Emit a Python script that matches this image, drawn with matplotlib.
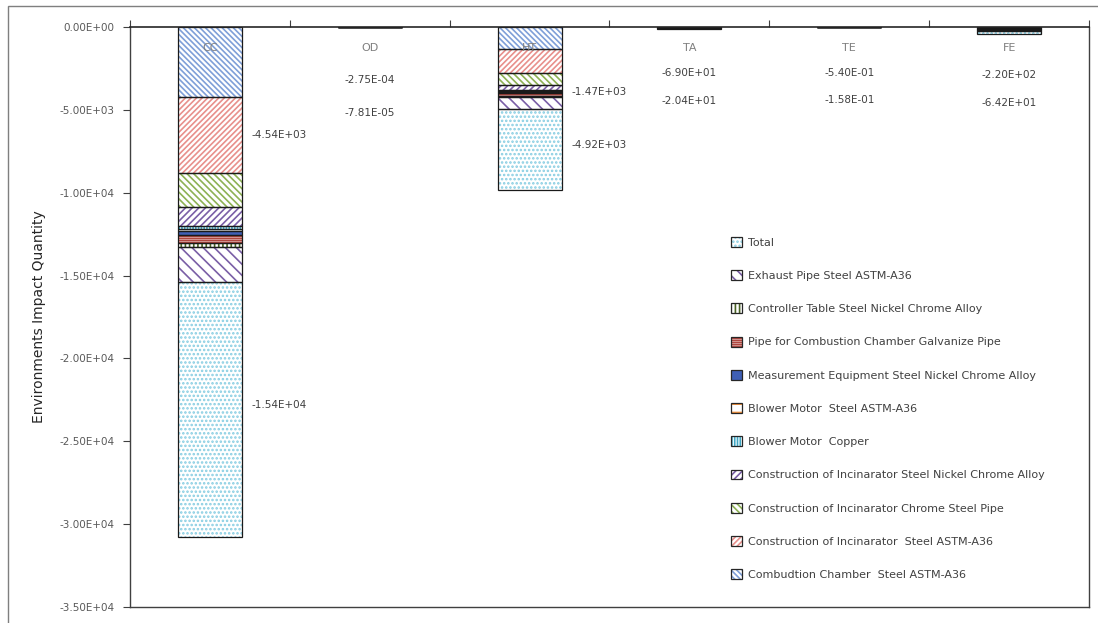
import numpy as np
import matplotlib
matplotlib.use("Agg")
import matplotlib.pyplot as plt
from matplotlib.patches import Patch, Rectangle

plt.rcParams['font.family'] = ['DejaVu Sans']
plt.rcParams['hatch.linewidth'] = 1.2

categories = ['CC', 'OD', 'HT', 'TA', 'TE', 'FE']

# stacked series, top of bar first (values as plotted, negative)
series_names = [
    'Combudtion Chamber  Steel ASTM-A36',
    'Construction of Incinarator  Steel ASTM-A36',
    'Construction of Incinarator Chrome Steel Pipe',
    'Construction of Incinarator Steel Nickel Chrome Alloy',
    'Blower Motor  Copper',
    'Blower Motor  Steel ASTM-A36',
    'Measurement Equipment Steel Nickel Chrome Alloy',
    'Pipe for Combustion Chamber Galvanize Pipe',
    'Controller Table Steel Nickel Chrome Alloy',
    'Exhaust Pipe Steel ASTM-A36',
    'Total',
]
chamber    = [-4250, -7.90e-05, -1330, -19.0, -0.149, -60.7]
steel_a36  = [-4540, -7.81e-05, -1470, -20.4, -0.158, -64.2]
chrome     = [-2050, -3.66e-05, -720, -9.2, -0.072, -29.3]
nickel     = [-1150, -2.05e-05, -300, -5.2, -0.040, -16.4]
copper     = [-200, -3.6e-06, -60, -0.9, -0.007, -2.9]
blower     = [-120, -2.1e-06, -40, -0.5, -0.004, -1.7]
measure    = [-250, -4.5e-06, -80, -1.1, -0.009, -3.6]
galvanize  = [-450, -8.0e-06, -150, -2.0, -0.016, -6.4]
controller = [-250, -4.5e-06, -90, -1.1, -0.009, -3.6]
exhaust    = [-2140, -3.81e-05, -680, -9.6, -0.076, -31.2]
total      = [-15400, -2.75e-04, -4920, -69.0, -0.540, -220.0]
series = [chamber, steel_a36, chrome, nickel, copper, blower, measure,
          galvanize, controller, exhaust, total]

# label placement (y in data units)
label_y_red = [-6500, -5190, -3920, -4470, -4410, -4590]
label_y_total = [-22800, -3200, -7120, -2780, -2780, -2900]
label_side = [True, False, True, False, False, False]   # right of bar?

colors = ['#7f9fd8', '#e8908c', '#8db255', '#7a5fa6', '#3fa7c4', '#f0913e',
          '#3f5fb5', '#b0463f', '#4a6324', '#7a5fa6', '#86cde2']
hatches = ['\\' * 6, '/' * 6, '\\' * 5, '/' * 5, '|' * 6, '--',
           '|' * 10, '-' * 8, '|' * 4, '\\' * 3, '.' * 4]

fig = plt.figure(figsize=(10.98, 6.23), dpi=100)
ax = fig.add_axes([130/1098, 16/623, 959/1098, 580/623])

x = np.arange(len(categories))
bottom = np.zeros(len(categories))
handles = []
for name, vals, c, h in zip(series_names, series, colors, hatches):
    vals = np.array(vals)
    ax.bar(x, vals, 0.4, bottom=bottom, facecolor='white', edgecolor=c,
           hatch=h, linewidth=0, zorder=2)
    ax.bar(x, vals, 0.4, bottom=bottom, facecolor='none', edgecolor='#1a1a1a',
           linewidth=0.9, zorder=3)
    bottom = bottom + vals
    handles.append((Patch(facecolor='white', edgecolor=c, hatch=h, linewidth=0),
                    Patch(facecolor='none', edgecolor='#262626', linewidth=0.9)))

ax.set_xlim(-0.5, 5.5)
ax.set_ylim(-35000, 0)
ax.set_yticks(np.arange(-35000, 1, 5000))
ax.set_yticklabels([f'{v:.2E}' for v in np.arange(-35000, 1, 5000)])
ax.tick_params(axis='y', direction='out', length=5, width=0.8,
               labelsize=7.5, labelcolor='#595959', color='#404040', pad=6)
ax.xaxis.set_ticks_position('top')
ax.set_xticks(np.arange(-0.5, 6, 1))
ax.set_xticklabels([])
ax.tick_params(axis='x', direction='out', length=5, width=0.8, color='#404040')
for s in ['left', 'bottom', 'right']:
    ax.spines[s].set_color('#404040')
    ax.spines[s].set_linewidth(1.0)
ax.spines['top'].set_color('#262626')
ax.spines['top'].set_linewidth(1.2)
ax.spines['top'].set_zorder(4)

ax.set_ylabel('Environments Impact Quantity', fontsize=10, color='#262626',
              labelpad=10)

for i, cat in enumerate(categories):
    ax.text(i, -1270, cat, ha='center', va='center', fontsize=8,
            color='#7f7f7f', zorder=5)
    if label_side[i]:
        xl, ha = i + 0.26, 'left'
    else:
        xl, ha = i, 'center'
    ax.text(xl, label_y_red[i], f'{steel_a36[i]:.2E}', ha=ha, va='center',
            fontsize=7.5, color='#404040')
    ax.text(xl, label_y_total[i], f'{total[i]:.2E}', ha=ha, va='center',
            fontsize=7.5, color='#404040')

fig.legend(handles[::-1], series_names[::-1], loc='upper left',
           bbox_to_anchor=(731/1098, 1 - 237/623), frameon=False,
           fontsize=8, labelcolor='#404040', handlelength=1.0,
           handleheight=1.0, handletextpad=0.5, labelspacing=2.02,
           borderpad=0, borderaxespad=0)

fig.patches.append(Rectangle((8/1098, -0.02), 1.2, 1 - 6/623 + 0.02,
                             transform=fig.transFigure, fill=False,
                             edgecolor='#7f7f7f', linewidth=1.0))

fig.savefig('out.png', dpi=100)
